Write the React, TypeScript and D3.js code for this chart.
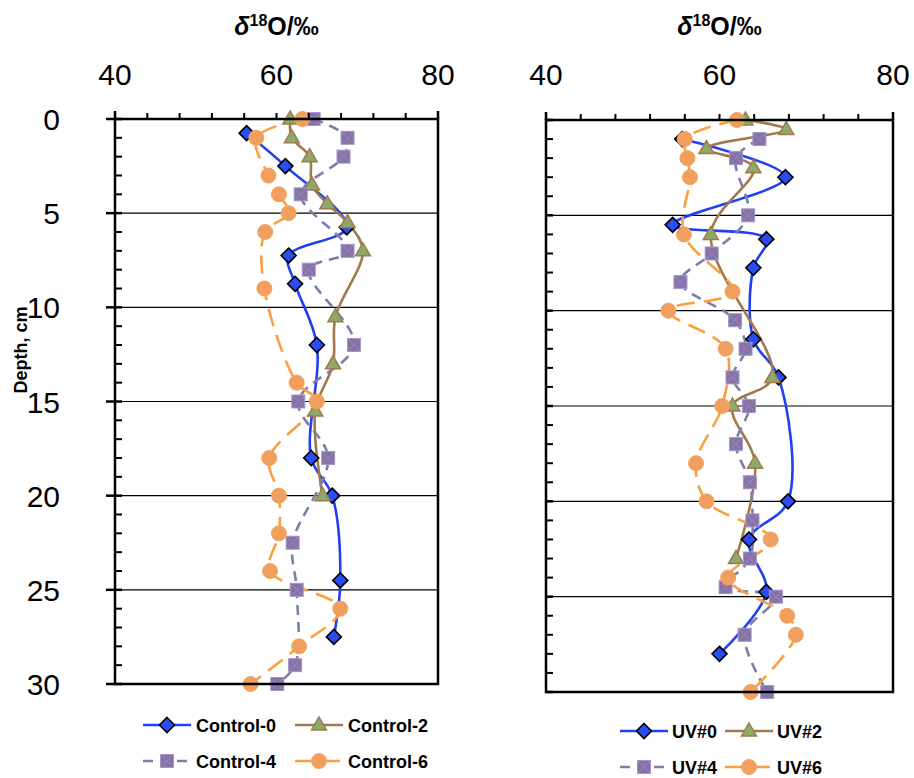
import React, { useEffect, useRef } from 'react';
import * as d3 from 'd3';

// each point: [depth cm, delta18O]
const control0: [number, number][] = [
  [0.75, 56.3], [2.5, 61.1], [5.75, 68.7], [7.25, 61.5], [8.75, 62.3],
  [12, 65.0], [18, 64.3], [20, 66.9], [24.5, 67.9], [27.5, 67.1],
];
const control2: [number, number][] = [
  [0, 61.7], [1, 61.9], [2, 64.1], [3.5, 64.4], [4.5, 66.3], [5.5, 68.8],
  [7, 70.7], [10.5, 67.3], [13, 67.0], [15.5, 64.8], [20, 65.7],
];
const control4: [number, number][] = [
  [0, 64.6], [1, 68.8], [2, 68.3], [4, 63.0], [7, 68.8], [8, 64.0],
  [12, 69.6], [15, 62.7], [18, 66.4], [22.5, 62.0], [25, 62.5], [29, 62.3], [30, 60.1],
];
const control6: [number, number][] = [
  [0, 63.2], [1, 57.5], [3, 59.0], [4, 60.3], [5, 61.5], [6, 58.6], [9, 58.5],
  [14, 62.5], [15, 65.0], [18, 59.1], [20, 60.3], [22, 60.3], [24, 59.2],
  [26, 67.9], [28, 62.8], [30, 56.8],
];

const uv0: [number, number][] = [
  [1, 55.7], [3, 67.6], [5.5, 54.6], [6.25, 65.4], [7.75, 63.9], [11.5, 63.9],
  [13.5, 66.8], [20, 67.9], [22, 63.4], [24.75, 65.4], [28, 60.0],
];
const uv2: [number, number][] = [
  [0, 63.0], [0.5, 67.7], [1.5, 58.5], [2.5, 63.9], [6, 59.0], [13.5, 66.1],
  [15, 61.5], [18, 64.1], [23, 61.9],
];
const uv4: [number, number][] = [
  [1, 64.6], [2, 61.9], [5, 63.3], [7, 59.1], [8.5, 55.5], [10.5, 61.8],
  [12, 63.0], [13.5, 61.5], [15, 63.4], [17, 61.9], [19, 63.5], [21, 63.8],
  [23, 63.5], [24.5, 60.7], [25, 66.5], [27, 62.9], [30, 65.5],
];
const uv6: [number, number][] = [
  [0, 62.0], [1, 56.0], [2, 56.3], [3, 56.6], [6, 55.9], [9, 61.5], [10, 54.1],
  [12, 60.7], [15, 60.3], [18, 57.3], [20, 58.5], [22, 65.9], [24, 61.0],
  [26, 67.8], [27, 68.8], [30, 63.6],
];

const controlNames = ['Control-0', 'Control-2', 'Control-4', 'Control-6'];
const uvNames = ['UV#0', 'UV#2', 'UV#4', 'UV#6'];
const xTicks = [40, 60, 80];
const yTicks = [0, 5, 10, 15, 20, 25, 30];

const styles = [
  { line: '#2140f0', dash: null, marker: 'diamond', fill: '#2b4cf2', stroke: '#000' },
  { line: '#a07a4c', dash: null, marker: 'triangle', fill: '#8caa6a', stroke: '#a07a4c' },
  { line: '#7b7fa8', dash: '10,7', marker: 'square', fill: '#8573a8', stroke: '#a595cc' },
  { line: '#f9a042', dash: '18,9', marker: 'circle', fill: '#f09f5e', stroke: '#f4a35e' },
];

const drawMarker = (g: any, type: string, x: number, y: number, st: any) => {
  if (type === 'diamond') {
    g.append('path').attr('d', `M${x},${y - 7.5}L${x + 7.5},${y}L${x},${y + 7.5}L${x - 7.5},${y}Z`)
      .attr('fill', st.fill).attr('stroke', st.stroke).attr('stroke-width', 1.6);
  } else if (type === 'triangle') {
    g.append('path').attr('d', `M${x},${y - 8}L${x + 7.5},${y + 5}L${x - 7.5},${y + 5}Z`)
      .attr('fill', st.fill).attr('stroke', st.stroke).attr('stroke-width', 1.5);
  } else if (type === 'square') {
    g.append('rect').attr('x', x - 6.5).attr('y', y - 6.5).attr('width', 13).attr('height', 13)
      .attr('fill', st.fill).attr('stroke', st.stroke).attr('stroke-width', 1);
    g.append('path').attr('d', `M${x - 6},${y - 6}L${x + 6},${y + 6}M${x + 6},${y - 6}L${x - 6},${y + 6}`)
      .attr('stroke', '#9a88bd').attr('stroke-width', 1);
  } else {
    g.append('circle').attr('cx', x).attr('cy', y).attr('r', 7.5)
      .attr('fill', st.fill).attr('stroke', st.stroke).attr('stroke-width', 1);
  }
};

const App = () => {
  const ref = useRef<SVGSVGElement>(null);

  useEffect(() => {
    const svg = d3.select(ref.current);
    svg.selectAll('*').remove();

    const panel = (series: [number, number][][], box: any, showY: boolean) => {
      const x = d3.scaleLinear().domain([40, 80]).range([box.x0, box.x1]);
      const y = d3.scaleLinear().domain([0, 30]).range([box.y0, box.y1]);
      const g = svg.append('g');

      // gridlines
      g.selectAll('.grid').data(yTicks.slice(1, -1)).enter().append('line')
        .attr('x1', box.x0).attr('x2', box.x1)
        .attr('y1', (d) => y(d)).attr('y2', (d) => y(d))
        .attr('stroke', '#000').attr('stroke-width', 1.2);

      // series
      series.forEach((data, i) => {
        const st = styles[i];
        const line = d3.line<[number, number]>()
          .x((d) => x(d[1])).y((d) => y(d[0]))
          .curve(d3.curveCatmullRom.alpha(0.5));
        g.append('path').attr('d', line(data) as string)
          .attr('fill', 'none').attr('stroke', st.line).attr('stroke-width', 2.6)
          .attr('stroke-dasharray', st.dash);
      });
      series.forEach((data, i) => {
        const st = styles[i];
        data.forEach((d) => drawMarker(g, st.marker, x(d[1]), y(d[0]), st));
      });

      // frame
      g.append('rect').attr('x', box.x0).attr('y', box.y0)
        .attr('width', box.x1 - box.x0).attr('height', box.y1 - box.y0)
        .attr('fill', 'none').attr('stroke', '#000').attr('stroke-width', 2.5);

      // top axis ticks
      d3.range(44, 80, 4).forEach((v) => {
        g.append('line').attr('x1', x(v)).attr('x2', x(v))
          .attr('y1', box.y0).attr('y2', box.y0 - 6)
          .attr('stroke', '#000').attr('stroke-width', 2);
      });
      [40, 80].forEach((v) => {
        g.append('line').attr('x1', x(v)).attr('x2', x(v))
          .attr('y1', box.y0 - 8).attr('y2', box.y0)
          .attr('stroke', '#000').attr('stroke-width', 2.5);
      });
      // left axis ticks
      d3.range(1, 30).forEach((v) => {
        if (v % 5 === 0) return;
        g.append('line').attr('x1', box.x0).attr('x2', box.x0 + 7)
          .attr('y1', y(v)).attr('y2', y(v))
          .attr('stroke', '#000').attr('stroke-width', 2);
      });
      yTicks.forEach((v) => {
        g.append('line').attr('x1', showY ? box.x0 - 9 : box.x0).attr('x2', box.x0 + 7)
          .attr('y1', y(v)).attr('y2', y(v))
          .attr('stroke', '#000').attr('stroke-width', 2.5);
      });

      // tick labels
      g.selectAll('.xl').data(xTicks).enter().append('text')
        .attr('x', (d) => x(d)).attr('y', 85)
        .attr('text-anchor', 'middle')
        .attr('font-family', 'Liberation Sans, Arial, sans-serif')
        .attr('font-size', 30).text((d) => d);
      if (showY) {
        g.selectAll('.yl').data(yTicks).enter().append('text')
          .attr('x', 60).attr('y', (d) => y(d) + 11)
          .attr('text-anchor', 'end')
          .attr('font-family', 'Liberation Sans, Arial, sans-serif')
          .attr('font-size', 30).text((d) => d);
      }

      // title
      const t = g.append('text').attr('x', (box.x0 + box.x1) / 2).attr('y', 35)
        .attr('text-anchor', 'middle')
        .attr('font-family', 'Liberation Sans, Arial, sans-serif')
        .attr('font-weight', 'bold').attr('font-size', 25);
      t.append('tspan').attr('font-style', 'italic').text('δ');
      t.append('tspan').attr('font-size', 16).attr('dy', -9).text('18');
      t.append('tspan').attr('dy', 9).text('O/‰');
    };

    const legend = (names: string[], lx: number[], ly: number[], tw: number) => {
      const g = svg.append('g');
      names.forEach((name, i) => {
        const st = styles[i];
        const cx = lx[i % 2];
        const cy = ly[Math.floor(i / 2)];
        g.append('line').attr('x1', cx - 24).attr('x2', cx + 24)
          .attr('y1', cy).attr('y2', cy)
          .attr('stroke', st.line).attr('stroke-width', 2.6)
          .attr('stroke-dasharray', st.dash);
        drawMarker(g, st.marker, cx, cy, st);
        g.append('text').attr('x', cx + tw).attr('y', cy + 6.5)
          .attr('font-family', 'Liberation Sans, Arial, sans-serif')
          .attr('font-weight', 'bold').attr('font-size', 18).text(name);
      });
    };

    panel([control0, control2, control4, control6], { x0: 115, x1: 438, y0: 119, y1: 684 }, true);
    panel([uv0, uv2, uv4, uv6], { x0: 546, x1: 893, y0: 120, y1: 692 }, false);

    svg.append('text')
      .attr('transform', 'translate(27,350) rotate(-90)')
      .attr('text-anchor', 'middle')
      .attr('font-family', 'Liberation Sans, Arial, sans-serif')
      .attr('font-weight', 'bold').attr('font-size', 18)
      .text('Depth, cm');

    legend(controlNames, [167, 319], [725, 761], 29);
    legend(uvNames, [644, 749], [731, 767], 28);
  }, []);

  return (
    <svg ref={ref} width={914} height={778}
      style={{ position: 'absolute', left: 0, top: 0, background: '#fff' }} />
  );
};

export default App;
